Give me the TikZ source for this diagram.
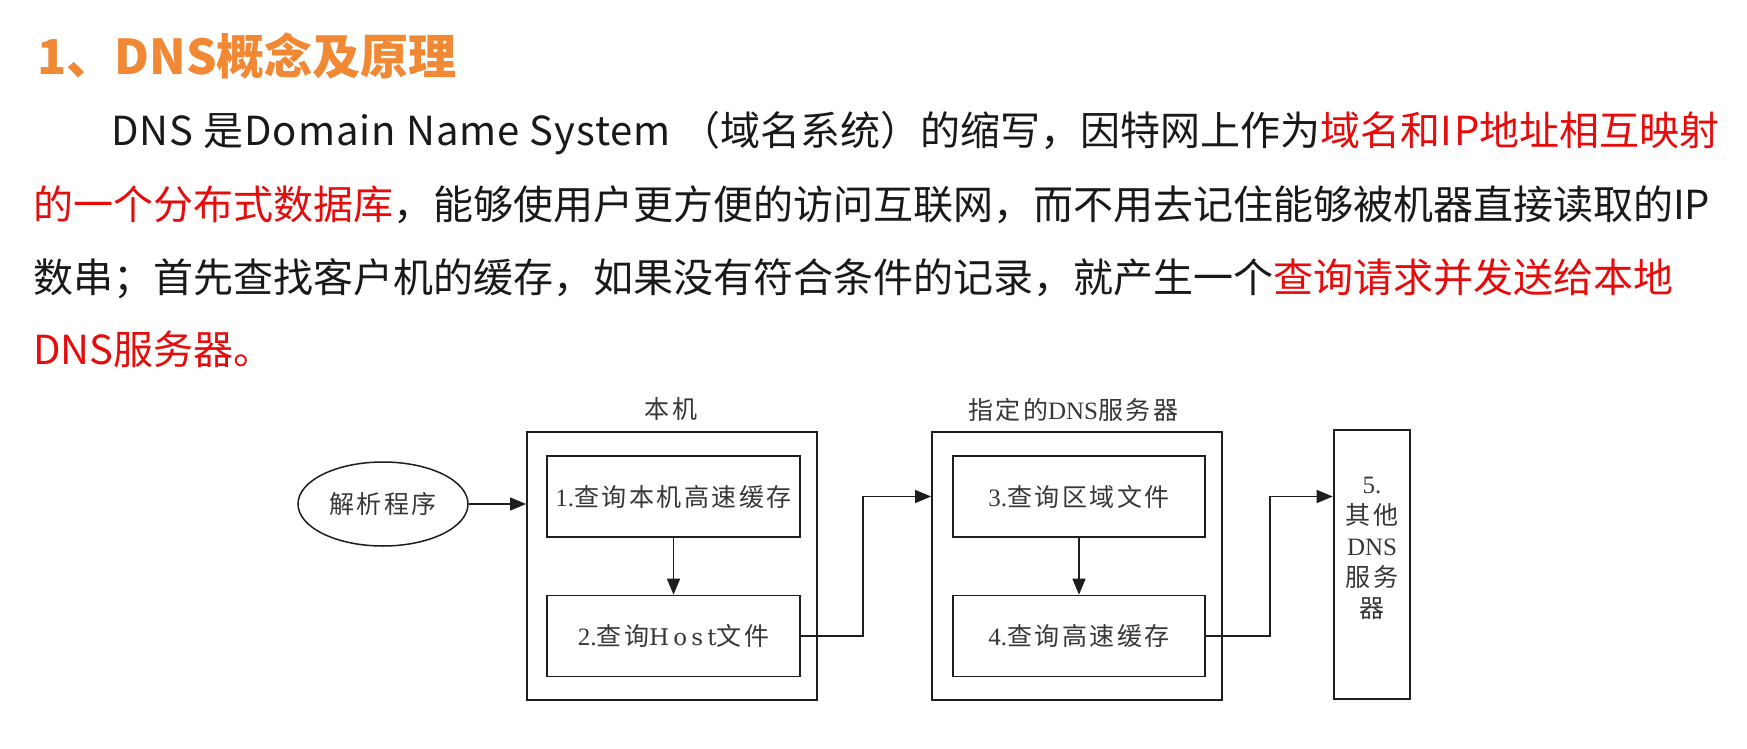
\documentclass[tikz,border=0pt]{standalone}
\usepackage{fontspec}
\setmainfont{Liberation Serif}
\newfontfamily\cjk{Noto Sans CJK SC}
\newfontfamily\dcjk[LetterSpace=10]{Noto Sans CJK SC}
\newfontfamily\wideserif[LetterSpace=18]{DejaVu Serif}
\usetikzlibrary{arrows.meta,shapes.geometric,calc}
\definecolor{titleorange}{RGB}{240,136,52}
\definecolor{hired}{RGB}{230,12,12}
\definecolor{ink}{RGB}{25,25,25}
\definecolor{dline}{RGB}{30,30,30}
\definecolor{dtext}{RGB}{55,55,55}
\begin{document}
\begin{tikzpicture}[x=1pt,y=-1pt,
  para/.style={anchor=base west, inner sep=0, text=ink, font=\cjk\fontsize{40}{48}\selectfont},
  dfont/.style={font=\fontsize{25}{31}\selectfont, text=dtext},
  frame/.style={draw=dline, line width=1.8pt, minimum width=290, minimum height=268, inner sep=0},
  qbox/.style={draw=dline, line width=1.6pt, minimum width=253, minimum height=81, inner sep=0, dfont},
  arr/.style={draw=dline, line width=1.5pt, -{Triangle[length=16pt,width=13pt]}},
  conn/.style={draw=dline, line width=1.5pt}
]
\useasboundingbox[fill=white] (0,0) rectangle (1747,749);

% heading and paragraph
\node[anchor=base west, inner sep=0, text=titleorange, font=\cjk\bfseries\fontsize{48}{56}\selectfont] (title) at (37,75) {1、DNS概念及原理};
\node[para] (l1) at (111,146) {{\addfontfeature{LetterSpace=2.5}DNS 是Domain Name System }（域名系统）的缩写，因特网上作为\textcolor{hired}{域名和{\addfontfeature{LetterSpace=4}IP}地址相互映射}};
\node[para] (l2) at (33,219) {\textcolor{hired}{的一个分布式数据库}，能够使用户更方便的访问互联网，而不用去记住能够被机器直接读取的IP};
\node[para] (l3) at (33,292) {数串；首先查找客户机的缓存，如果没有符合条件的记录，就产生一个\textcolor{hired}{查询请求并发送给本地}};
\node[para] (l4) at (33,364) {\textcolor{hired}{DNS服务器。}};

% diagram
\node[draw=dline, line width=1.5pt, ellipse, minimum width=170, minimum height=84, inner sep=0, dfont] (parser) at (383,504) {\dcjk 解析程序};

\node[frame] (local) at (672,566) {};
\node[dfont, inner sep=0] (locallbl) at (671,409) {\dcjk 本机};
\node[qbox] (b1) at (673.5,496.5) {1.{\dcjk 查询本机高速缓存}};
\node[qbox] (b2) at (673.5,636) {2.{\dcjk 查询}{\wideserif\fontsize{23}{31}\selectfont Host}{\dcjk 文件}};

\node[frame] (dns) at (1077,566) {};
\node[dfont, inner sep=0] (dnslbl) at (1073,410) {{\dcjk 指定的}DNS{\dcjk 服务器}};
\node[qbox, minimum width=252] (b3) at (1079,496.5) {3.{\dcjk 查询区域文件}};
\node[qbox, minimum width=252] (b4) at (1079,636) {4.{\dcjk 查询高速缓存}};

\node[draw=dline, line width=2.6pt, minimum width=76, minimum height=269, inner sep=0,
  label={[name=b5t, dfont, align=center, inner sep=0, yshift=16pt]center:{5.\\{\dcjk 其他}\\DNS\\{\dcjk 服务}\\{\dcjk 器}}}] (b5) at (1372,564.5) {};

\coordinate (k1) at (863,0);
\coordinate (k2) at (1270,0);

\draw[arr] (parser.east) -- (local.west |- parser.east);
\draw[arr] (b1.south) -- (b2.north);
\draw[arr] (b3.south) -- (b4.north);
\draw[arr] (b2.east) -| (k1 |- b3.west) -- (dns.west |- b3.west);
\draw[arr] (b4.east) -| (k2 |- b3.west) -- (b5.west |- b3.west);
\end{tikzpicture}
\end{document}
